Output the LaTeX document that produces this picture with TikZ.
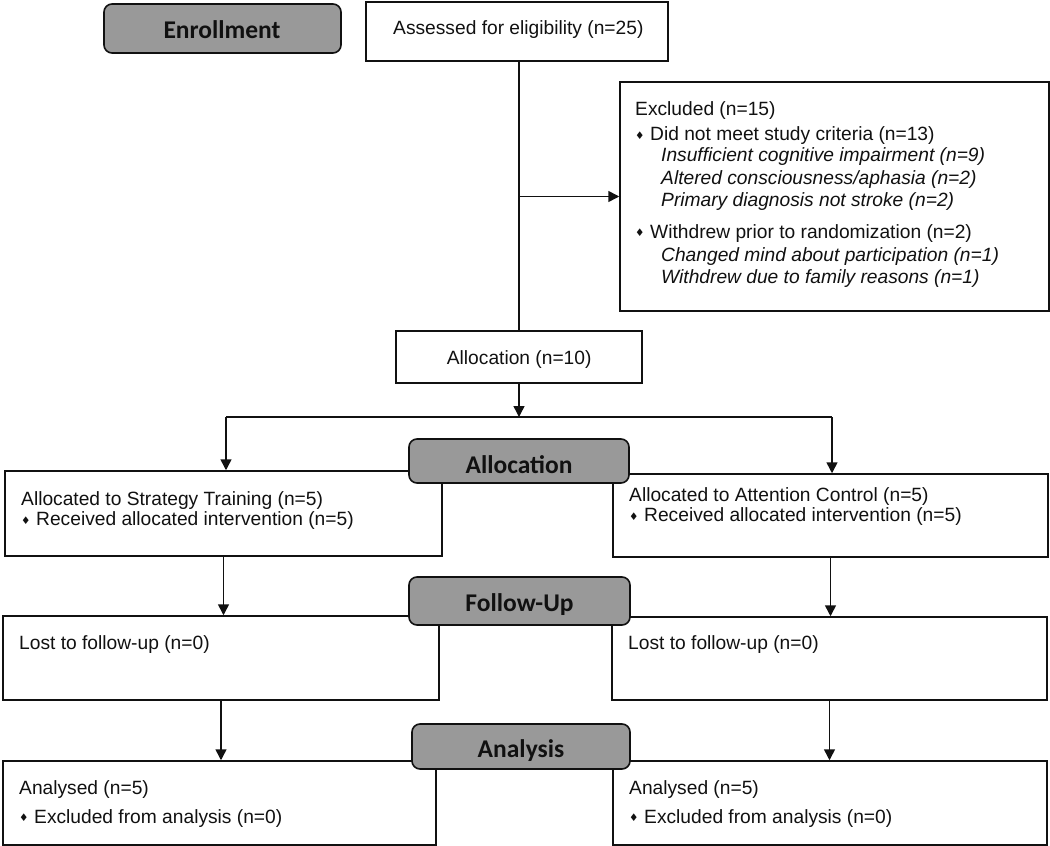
\documentclass[tikz,border=0pt]{standalone}
\usepackage{fontspec}
\setmainfont{Liberation Sans}
\newfontfamily\labfont{Carlito}
\newfontfamily\dejavu{DejaVu Sans}
\usetikzlibrary{arrows.meta}
\definecolor{ink}{HTML}{111111}
\definecolor{grayfill}{HTML}{999999}
\newcommand{\dia}{\makebox[15pt][l]{\raisebox{1.5pt}{\dejavu\fontsize{10.5}{10.5}\selectfont ♦}}}
\begin{document}
\begin{tikzpicture}[x=1pt,y=-1pt,
  wbox/.style={draw=ink, line width=1.5pt, fill=white, inner sep=0pt, rectangle},
  gbox/.style={draw=ink, line width=1.6pt, fill=grayfill, rounded corners=8pt, inner sep=0pt, rectangle},
  txt/.style={anchor=base west, inner sep=0pt, text=ink, font=\fontsize{19.2}{22}\selectfont},
  itx/.style={anchor=base west, inner sep=0pt, text=ink, font=\fontsize{19.2}{22}\selectfont\itshape},
  lab/.style={anchor=base, inner sep=0pt, text=ink, font=\labfont\bfseries\fontsize{25.5}{30}\selectfont},
  arr/.style={draw=ink, line width=1.5pt, -{Triangle[width=11pt,length=11pt]}},
  ln/.style={draw=ink, line width=1.5pt}]
\useasboundingbox (0,0) rectangle (1050,846);

% white boxes
\node[wbox, minimum width=302pt, minimum height=59pt] (assess) at (517,31.5) {};
\node[wbox, minimum width=429pt, minimum height=229pt] (excl) at (834.5,196.5) {};
\node[wbox, minimum width=246pt, minimum height=52pt] (alloc) at (519,357) {};
\node[wbox, minimum width=437pt, minimum height=85pt] (stL) at (223.5,513.5) {};
\node[wbox, minimum width=435pt, minimum height=83pt] (stR) at (830.5,515.5) {};
\node[wbox, minimum width=436pt, minimum height=84pt] (lostL) at (221,658) {};
\node[wbox, minimum width=435pt, minimum height=83pt] (lostR) at (829.5,658.5) {};
\node[wbox, minimum width=433pt, minimum height=84pt] (anL) at (219.5,803) {};
\node[wbox, minimum width=434pt, minimum height=84pt] (anR) at (830,803) {};

% connectors
\coordinate (br) at (519,196.5);
\coordinate (split) at (519,417);
\coordinate (jl) at (226,417);
\coordinate (jr) at (832,417);
\draw[ln] (assess.south -| alloc.north) -- (alloc.north);
\draw[arr] (br) -- (excl.west);
\draw[arr] (alloc.south) -- (split);
\draw[ln] (jl) -- (jr);
\draw[arr] (jl) -- (jl |- stL.north);
\draw[arr] (jr) -- (jr |- stR.north);
\draw[arr] (stL.south) -- (stL.south |- lostL.north);
\draw[arr] (stR.south) -- (stR.south |- lostR.north);
\draw[arr] (lostL.south) -- (lostL.south |- anL.north);
\draw[arr] (lostR.south) -- (lostR.south |- anR.north);

% gray label boxes
\node[gbox, minimum width=237pt, minimum height=49pt] (genr) at (222.5,28.5) {};
\node[gbox, minimum width=220pt, minimum height=44pt] (galloc) at (519,461) {};
\node[gbox, minimum width=221pt, minimum height=48pt] (gfol) at (519.5,601) {};
\node[gbox, minimum width=218pt, minimum height=45pt] (gana) at (521,746.5) {};
\node[lab] (tenr) at (222,38.3) {Enrollment};
\node[lab] (talloc) at (519,473.3) {Allocation};
\node[lab] (tfol) at (519.5,611.7) {Follow-Up};
\node[lab] (tana) at (521,757.7) {Analysis};

% texts
\node[txt] (tassess) at (393,34) {Assessed for eligibility (n=25)};
\node[txt] (ex1) at (635,115) {Excluded (n=15)};
\node[txt] (ex2) at (635,140.7) {\dia Did not meet study criteria (n=13)};
\node[itx] (ex3) at (661,161.7) {Insufficient cognitive impairment (n=9)};
\node[itx] (ex4) at (661,184) {Altered consciousness/aphasia (n=2)};
\node[itx] (ex5) at (661,206) {Primary diagnosis not stroke (n=2)};
\node[txt] (ex6) at (635,238.3) {\dia Withdrew prior to randomization (n=2)};
\node[itx] (ex7) at (661,261.7) {Changed mind about participation (n=1)};
\node[itx] (ex8) at (661,283.3) {Withdrew due to family reasons (n=1)};
\node[txt] (talloc10) at (446.7,364) {Allocation (n=10)};
\node[txt] (stL1) at (21,505) {Allocated to Strategy Training (n=5)};
\node[txt] (stL2) at (21,525.7) {\dia Received allocated intervention (n=5)};
\node[txt] (stR1) at (629,501) {Allocated to Attention Control (n=5)};
\node[txt] (stR2) at (629,521.7) {\dia Received allocated intervention (n=5)};
\node[txt] (lostL1) at (19,649) {Lost to follow-up (n=0)};
\node[txt] (lostR1) at (628,649) {Lost to follow-up (n=0)};
\node[txt] (anL1) at (19,794.3) {Analysed (n=5)};
\node[txt] (anL2) at (19,823.3) {\dia Excluded from analysis (n=0)};
\node[txt] (anR1) at (629,794.3) {Analysed (n=5)};
\node[txt] (anR2) at (629,823.3) {\dia Excluded from analysis (n=0)};
\end{tikzpicture}
\end{document}
